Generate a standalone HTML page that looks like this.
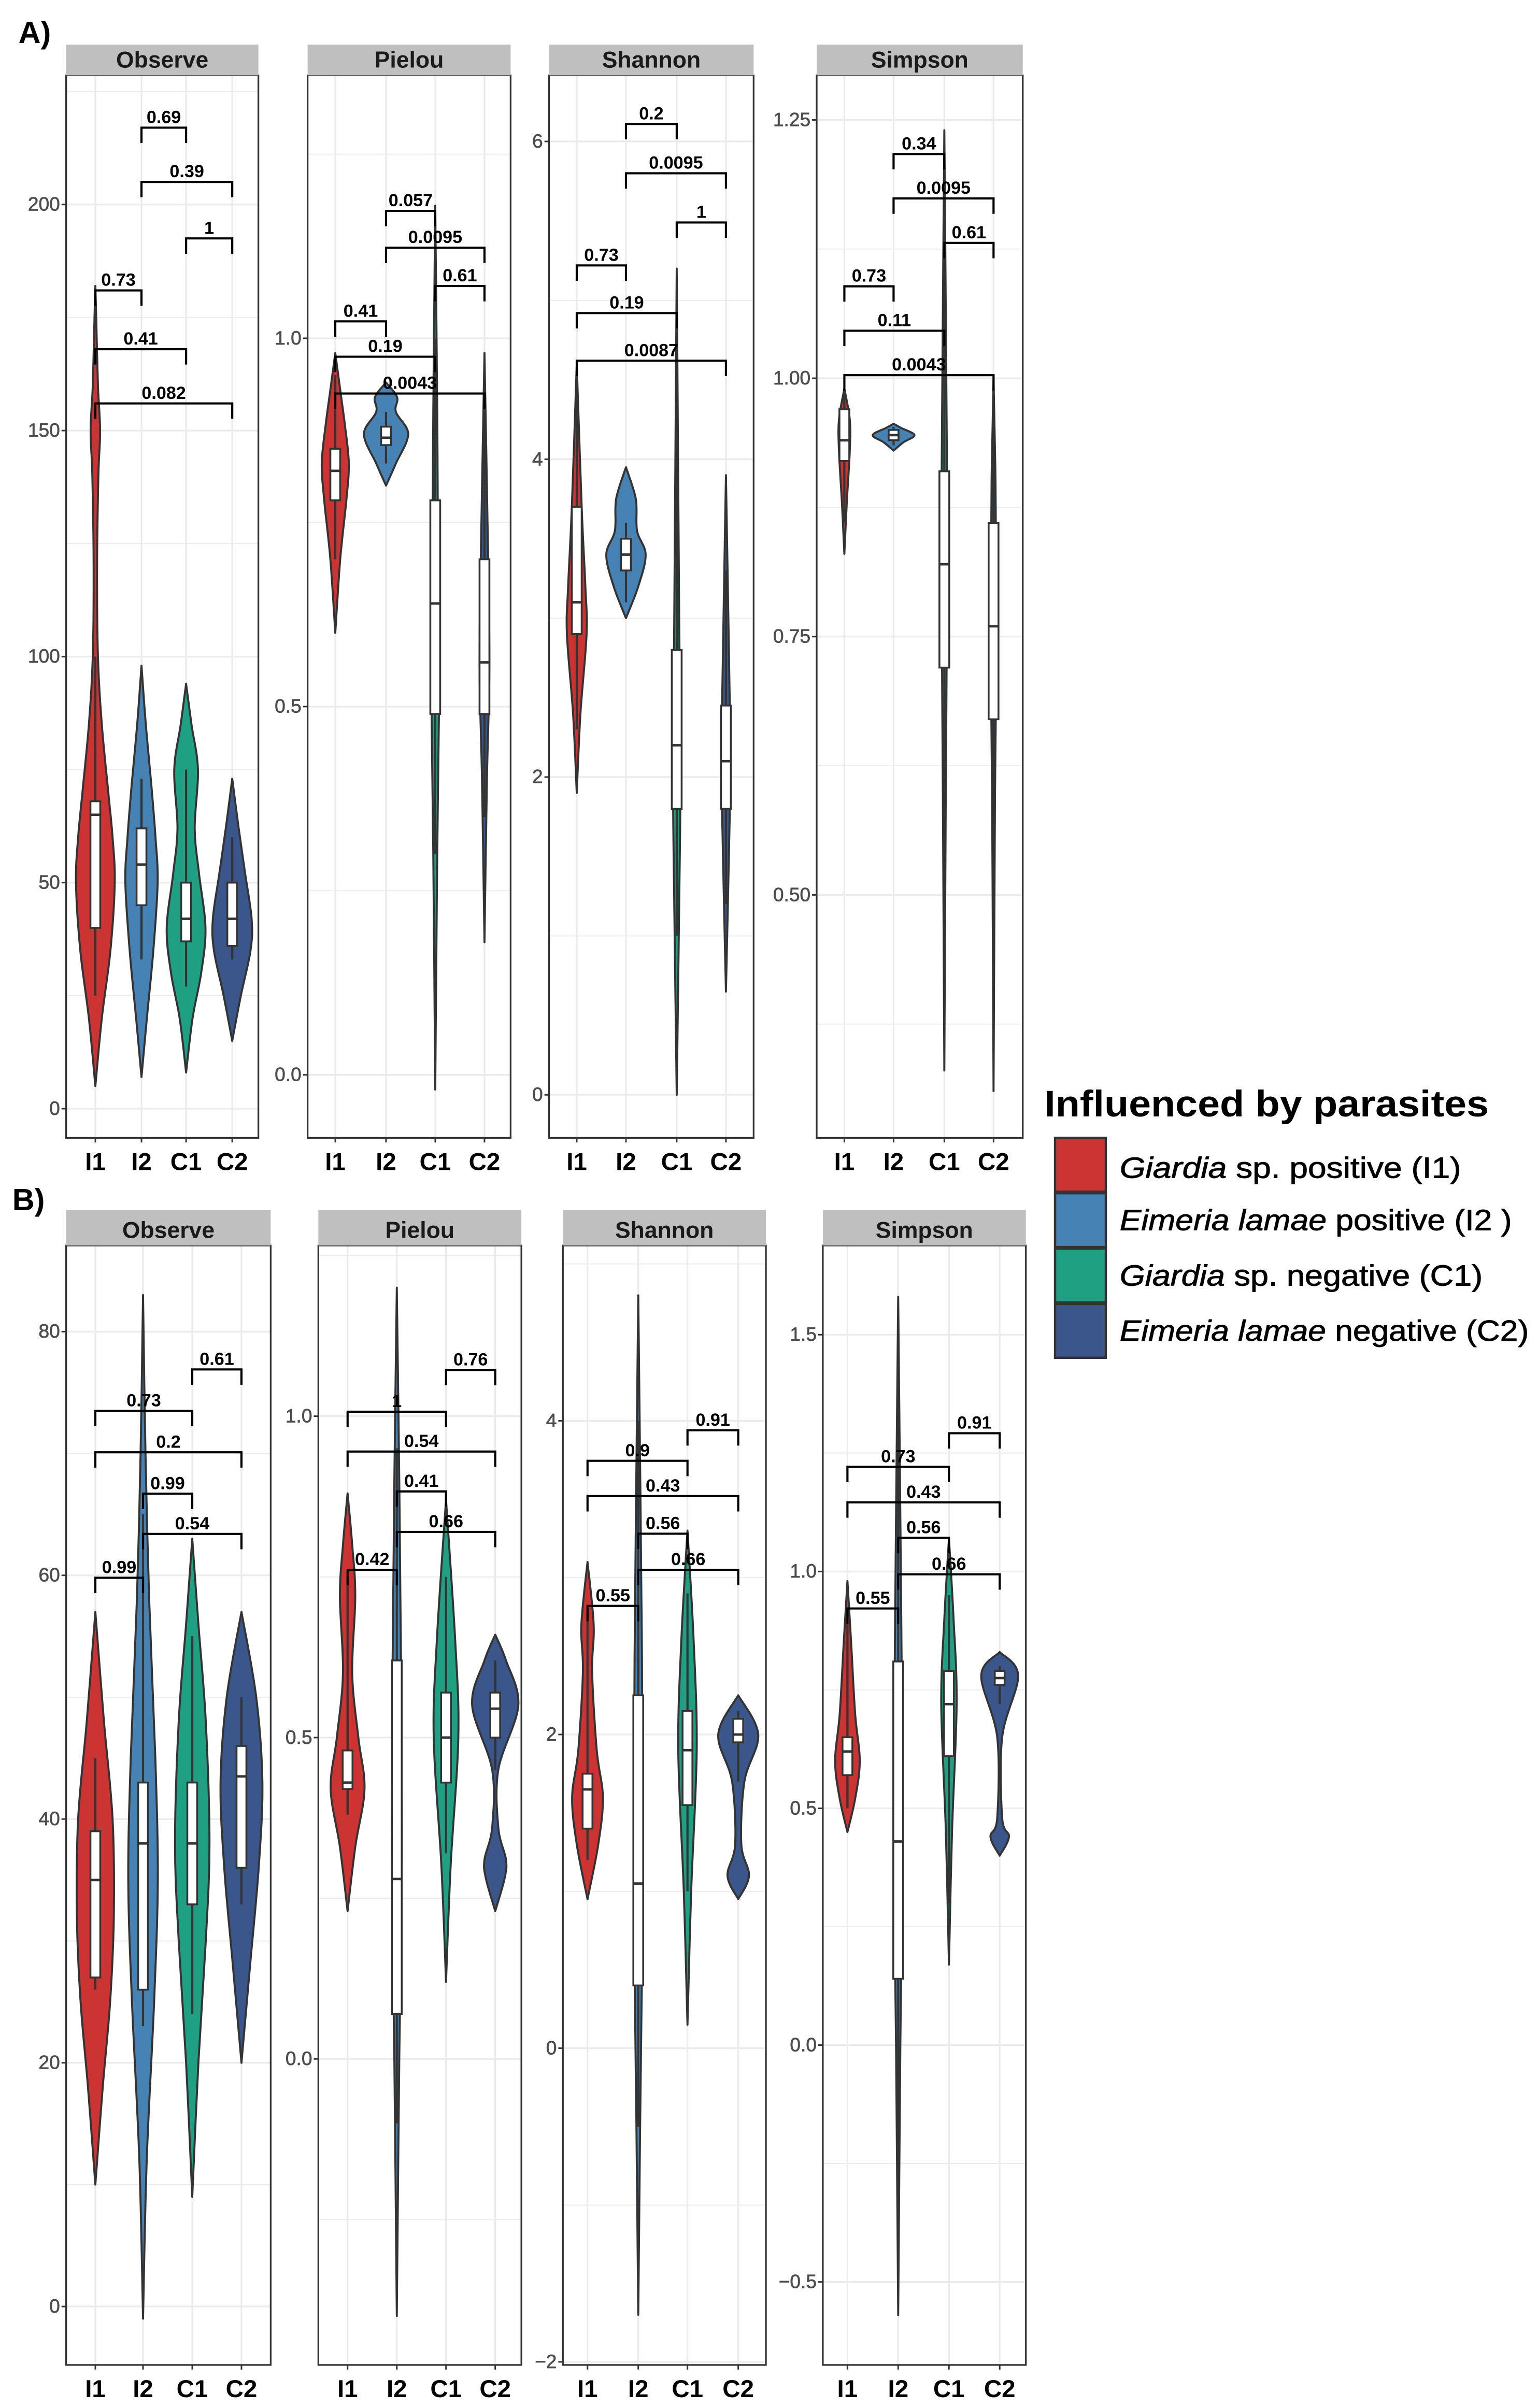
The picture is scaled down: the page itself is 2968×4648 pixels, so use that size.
<!DOCTYPE html>
<html><head><meta charset="utf-8"><style>
html,body{margin:0;padding:0;background:#fff;}
svg{display:block;}
text{font-family:"Liberation Sans",sans-serif;}
</style></head><body>
<svg id="fig" xmlns="http://www.w3.org/2000/svg" width="2968" height="4648" viewBox="0 0 1000 1566" preserveAspectRatio="none">
<rect x="0" y="0" width="1000" height="1566" fill="#fff"/>
<text x="12" y="28" font-size="20" font-weight="bold">A)</text>
<text x="8" y="787" font-size="20" font-weight="bold">B)</text>
<g>
<text x="679" y="726" font-size="24" font-weight="bold" textLength="289" lengthAdjust="spacingAndGlyphs">Influenced by parasites</text>
<rect x="686" y="740" width="33" height="35" fill="#cc3333" stroke="#333" stroke-width="1.5"/>
<rect x="686" y="776" width="33" height="35" fill="#4682b4" stroke="#333" stroke-width="1.5"/>
<rect x="686" y="812" width="33" height="35" fill="#1fa083" stroke="#333" stroke-width="1.5"/>
<rect x="686" y="848" width="33" height="35" fill="#3b568a" stroke="#333" stroke-width="1.5"/>
<text x="728" y="766" font-size="19" textLength="222" lengthAdjust="spacingAndGlyphs" stroke="#000" stroke-width="0.3"><tspan font-style="italic">Giardia</tspan> sp. positive (I1)</text>
<text x="728" y="800" font-size="19" textLength="255" lengthAdjust="spacingAndGlyphs" stroke="#000" stroke-width="0.3"><tspan font-style="italic">Eimeria lamae</tspan> positive (I2 )</text>
<text x="728" y="836" font-size="19" textLength="236" lengthAdjust="spacingAndGlyphs" stroke="#000" stroke-width="0.3"><tspan font-style="italic">Giardia</tspan> sp. negative (C1)</text>
<text x="728" y="872" font-size="19" textLength="266" lengthAdjust="spacingAndGlyphs" stroke="#000" stroke-width="0.3"><tspan font-style="italic">Eimeria lamae</tspan> negative (C2)</text>
</g>
</svg>
<script>
const groups = ["I1","I2","C1","C2"];
const fills = ["#cc3333","#4682b4","#1fa083","#3b568a"];
// violin density profiles: [value, relative width]
const aObserveViolins = [
 [[5,0],[20,0.3],[35,0.7],[50,0.9],[60,0.8],[70,0.6],[85,0.3],[100,0.12],[120,0.08],[140,0.14],[150,0.22],[160,0.12],[175,0.04],[182,0]],
 [[7,0],[20,0.25],[35,0.55],[50,0.75],[60,0.65],[72,0.45],[85,0.2],[98,0]],
 [[8,0],[20,0.3],[30,0.7],[40,0.9],[52,0.6],[62,0.4],[75,0.55],[85,0.25],[94,0]],
 [[15,0],[25,0.4],[35,0.85],[42,0.9],[52,0.6],[62,0.3],[73,0]]];
const aObserveBoxes = [[25,40,65,68,100],[33,45,54,62,73],[27,37,42,50,75],[33,36,42,50,60]];
const aPielouViolins = [
 [[0.6,0],[0.7,0.2],[0.78,0.45],[0.83,0.55],[0.88,0.4],[0.93,0.2],[0.98,0]],
 [[0.8,0],[0.83,0.4],[0.87,0.9],[0.9,0.4],[0.92,0.45],[0.94,0]],
 [[-0.02,0],[0.3,0.08],[0.5,0.15],[0.65,0.12],[0.9,0.08],[1.18,0]],
 [[0.18,0],[0.4,0.1],[0.55,0.2],[0.7,0.15],[0.98,0]]];
const aPielouBoxes = [[0.7,0.78,0.82,0.85,0.95],[0.83,0.855,0.865,0.88,0.9],[0.3,0.49,0.64,0.78,1.0],[0.35,0.49,0.56,0.7,0.9]];
const aShannonViolins = [
 [[1.9,0],[2.4,0.15],[2.9,0.4],[3.2,0.35],[3.7,0.2],[4.6,0]],
 [[3.0,0],[3.2,0.5],[3.4,0.8],[3.55,0.45],[3.75,0.4],[3.95,0]],
 [[0,0],[1.2,0.1],[2.0,0.15],[3.0,0.1],[5.2,0]],
 [[0.65,0],[1.5,0.12],[2.1,0.18],[2.8,0.12],[3.9,0]]];
const aShannonBoxes = [[2.3,2.9,3.1,3.7,4.4],[3.1,3.3,3.4,3.5,3.6],[1.0,1.8,2.2,2.8,4.5],[1.2,1.8,2.1,2.45,3.3]];
const aSimpsonViolins = [
 [[0.83,0],[0.88,0.1],[0.93,0.22],[0.96,0.22],[0.99,0]],
 [[0.93,0],[0.938,0.4],[0.945,0.85],[0.952,0.3],[0.956,0]],
 [[0.33,0],[0.6,0.06],[0.82,0.12],[1.0,0.08],[1.24,0]],
 [[0.31,0],[0.6,0.06],[0.76,0.12],[0.9,0.08],[1.0,0]]];
const aSimpsonBoxes = [[0.86,0.92,0.94,0.97,0.99],[0.935,0.94,0.945,0.95,0.953],[0.4,0.72,0.82,0.91,1.2],[0.35,0.67,0.76,0.86,0.98]];
const bObserveViolins = [
 [[10,0],[18,0.3],[25,0.6],[32,0.75],[40,0.7],[48,0.35],[57,0]],
 [[-1,0],[12,0.15],[25,0.45],[35,0.6],[45,0.5],[58,0.25],[70,0.1],[83,0]],
 [[9,0],[20,0.25],[30,0.55],[38,0.7],[48,0.55],[56,0.25],[63,0]],
 [[20,0],[28,0.35],[36,0.7],[43,0.85],[50,0.6],[57,0]]];
const bObserveBoxes = [[26,27,35,39,45],[23,26,38,43,65],[24,33,38,43,55],[33,36,43.5,46,50]];
const bPielouViolins = [
 [[0.23,0],[0.33,0.25],[0.42,0.55],[0.5,0.35],[0.6,0.15],[0.72,0.25],[0.8,0.15],[0.88,0]],
 [[-0.4,0],[0.0,0.08],[0.3,0.16],[0.6,0.14],[0.9,0.08],[1.2,0]],
 [[0.12,0],[0.3,0.15],[0.5,0.4],[0.65,0.3],[0.87,0]],
 [[0.23,0],[0.28,0.3],[0.31,0.35],[0.36,0.1],[0.45,0.1],[0.55,0.75],[0.62,0.35],[0.66,0]]];
const bPielouBoxes = [[0.38,0.42,0.43,0.48,0.75],[-0.1,0.07,0.28,0.62,0.95],[0.32,0.43,0.5,0.57,0.75],[0.45,0.5,0.545,0.57,0.62]];
const bShannonViolins = [
 [[0.95,0],[1.3,0.35],[1.6,0.5],[1.9,0.3],[2.4,0.15],[2.7,0.2],[3.1,0]],
 [[-1.7,0],[-0.5,0.06],[1.0,0.14],[2.5,0.12],[4.8,0]],
 [[0.15,0],[1.0,0.12],[1.9,0.3],[2.6,0.2],[3.3,0]],
 [[0.95,0],[1.1,0.35],[1.3,0.1],[1.7,0.2],[2.0,0.65],[2.25,0]]];
const bShannonBoxes = [[1.2,1.4,1.65,1.75,2.8],[-0.5,0.4,1.05,2.25,4.0],[1.0,1.55,1.9,2.15,2.9],[1.7,1.95,2.0,2.1,2.15]];
const bSimpsonViolins = [
 [[0.45,0],[0.52,0.25],[0.6,0.4],[0.7,0.25],[0.85,0.12],[0.98,0]],
 [[-0.57,0],[0.0,0.07],[0.45,0.14],[0.9,0.1],[1.58,0]],
 [[0.17,0],[0.45,0.1],[0.72,0.25],[0.9,0.15],[1.07,0]],
 [[0.4,0],[0.44,0.3],[0.48,0.08],[0.65,0.08],[0.78,0.6],[0.83,0]]];
const bSimpsonBoxes = [[0.5,0.57,0.62,0.65,0.9],[-0.3,0.14,0.43,0.81,1.4],[0.3,0.61,0.72,0.79,0.95],[0.72,0.76,0.775,0.79,0.8]];
// brackets: [groupA, groupB, y value, label]
const aObserveBrackets = [[1,2,217,"0.69"],[1,3,205,"0.39"],[2,3,192.5,"1"],[0,1,181,"0.73"],[0,2,168,"0.41"],[0,3,156,"0.082"]];
const aPielouBrackets = [[1,2,1.173,"0.057"],[1,3,1.123,"0.0095"],[2,3,1.071,"0.61"],[0,1,1.023,"0.41"],[0,2,0.975,"0.19"],[0,3,0.925,"0.0043"]];
const aShannonBrackets = [[1,2,6.11,"0.2"],[1,3,5.8,"0.0095"],[2,3,5.49,"1"],[0,1,5.22,"0.73"],[0,2,4.92,"0.19"],[0,3,4.62,"0.0087"]];
const aSimpsonBrackets = [[1,2,1.217,"0.34"],[1,3,1.174,"0.0095"],[2,3,1.131,"0.61"],[0,1,1.089,"0.73"],[0,2,1.046,"0.11"],[0,3,1.003,"0.0043"]];
const bObserveBrackets = [[2,3,76.9,"0.61"],[0,2,73.5,"0.73"],[0,3,70.1,"0.2"],[1,2,66.7,"0.99"],[1,3,63.4,"0.54"],[0,1,59.8,"0.99"]];
const bPielouBrackets = [[2,3,1.072,"0.76"],[0,2,1.007,"1"],[0,3,0.945,"0.54"],[1,2,0.883,"0.41"],[1,3,0.82,"0.66"],[0,1,0.761,"0.42"]];
const bShannonBrackets = [[2,3,3.94,"0.91"],[0,2,3.745,"0.9"],[0,3,3.52,"0.43"],[1,2,3.28,"0.56"],[1,3,3.05,"0.66"],[0,1,2.82,"0.55"]];
const bSimpsonBrackets = [[2,3,1.292,"0.91"],[0,2,1.221,"0.73"],[0,3,1.146,"0.43"],[1,2,1.071,"0.56"],[1,3,0.994,"0.66"],[0,1,0.922,"0.55"]];
// tick labels
const aObserveTicks = ["0","50","100","150","200"];
const aPielouTicks = ["0.0","0.5","1.0"];
const aShannonTicks = ["0","2","4","6"];
const aSimpsonTicks = ["0.50","0.75","1.00","1.25"];
const bObserveTicks = ["0","20","40","60","80"];
const bPielouTicks = ["0.0","0.5","1.0"];
const bShannonTicks = ["-2","0","2","4"];
const bSimpsonTicks = ["-0.5","0.0","0.5","1.0","1.5"];

const NS="http://www.w3.org/2000/svg";
const svg=document.getElementById('fig');
function mk(tag,attrs,parent){const e=document.createElementNS(NS,tag);for(const k in attrs)e.setAttribute(k,attrs[k]);(parent||svg).appendChild(e);return e;}
function smooth(pts){
 // Catmull-Rom to cubic Bezier, pts = [[x,y],...]
 let d='M'+pts[0][0]+','+pts[0][1];
 for(let i=0;i<pts.length-1;i++){
  const p0=pts[Math.max(0,i-1)],p1=pts[i],p2=pts[i+1],p3=pts[Math.min(pts.length-1,i+2)];
  const c1=[p1[0]+(p2[0]-p0[0])/6,p1[1]+(p2[1]-p0[1])/6];
  const c2=[p2[0]-(p3[0]-p1[0])/6,p2[1]-(p3[1]-p1[1])/6];
  d+=` C${c1[0]},${c1[1]} ${c2[0]},${c2[1]} ${p2[0]},${p2[1]}`;
 }
 return d;
}

const panels=[
 {id:'a-observe',title:'Observe',x0:43,x1:168,st:29,top:49,bot:740,v0:0,p0:721,v1:200,p1:133,xs:[62,92,121,151],vio:aObserveViolins,box:aObserveBoxes,br:aObserveBrackets,ticks:aObserveTicks,hw:14},
 {id:'a-pielou',title:'Pielou',x0:200,x1:332,st:29,top:49,bot:740,v0:0,p0:699,v1:1,p1:220,xs:[218,251,283,315],vio:aPielouViolins,box:aPielouBoxes,br:aPielouBrackets,ticks:aPielouTicks,hw:16},
 {id:'a-shannon',title:'Shannon',x0:357,x1:490,st:29,top:49,bot:740,v0:0,p0:712,v1:6,p1:92,xs:[375,407,440,472],vio:aShannonViolins,box:aShannonBoxes,br:aShannonBrackets,ticks:aShannonTicks,hw:16},
 {id:'a-simpson',title:'Simpson',x0:531,x1:665,st:29,top:49,bot:740,v0:0.5,p0:582,v1:1.25,p1:78,xs:[549,581,614,646],vio:aSimpsonViolins,box:aSimpsonBoxes,br:aSimpsonBrackets,ticks:aSimpsonTicks,hw:16},
 {id:'b-observe',title:'Observe',x0:43,x1:176,st:787,top:810,bot:1538,v0:0,p0:1500,v1:80,p1:866,xs:[62,93,125,157],vio:bObserveViolins,box:bObserveBoxes,br:bObserveBrackets,ticks:bObserveTicks,hw:16},
 {id:'b-pielou',title:'Pielou',x0:207,x1:339,st:787,top:810,bot:1538,v0:0,p0:1339,v1:1,p1:921,xs:[226,258,290,322],vio:bPielouViolins,box:bPielouBoxes,br:bPielouBrackets,ticks:bPielouTicks,hw:20},
 {id:'b-shannon',title:'Shannon',x0:366,x1:498,st:787,top:810,bot:1538,v0:0,p0:1332,v1:4,p1:924,xs:[382,415,447,480],vio:bShannonViolins,box:bShannonBoxes,br:bShannonBrackets,ticks:bShannonTicks,hw:20},
 {id:'b-simpson',title:'Simpson',x0:535,x1:667,st:787,top:810,bot:1538,v0:0,p0:1330,v1:1,p1:1022,xs:[551,584,617,650],vio:bSimpsonViolins,box:bSimpsonBoxes,br:bSimpsonBrackets,ticks:bSimpsonTicks,hw:20}
];

panels.forEach(P=>{
 const y=v=>P.p0+(v-P.v0)*(P.p1-P.p0)/(P.v1-P.v0);
 const g=mk('g',{});
 
 
 mk('rect',{x:P.x0,y:P.top,width:P.x1-P.x0,height:P.bot-P.top,fill:'#fff'},g);
 const tv=P.ticks.map(Number);
 const step=tv[1]-tv[0];
 for(let v=tv[0]-step*2;v<=tv[tv.length-1]+step*2;v+=step/2){
  const yy=y(v); if(yy<P.top||yy>P.bot) continue;
  const isMajor=Math.abs(((v-tv[0])/step)-Math.round((v-tv[0])/step))<1e-6;
  const gl=mk('line',{x1:P.x0,x2:P.x1,y1:yy,y2:yy,stroke:'#ebebeb','stroke-width':isMajor?1.1:0.6},g);
  
  
 }
 P.xs.forEach(x=>{mk('line',{x1:x,x2:x,y1:P.top,y2:P.bot,stroke:'#ebebeb','stroke-width':1.1},g);});
 P.vio.forEach((prof,i)=>{
  const cx=P.xs[i];
  const right=prof.map(p=>[cx+p[1]*P.hw,y(p[0])]);
  const left=prof.slice().reverse().map(p=>[cx-p[1]*P.hw,y(p[0])]);
  let d=smooth(right)+' '+smooth(left).replace(/^M/,'L')+'Z';
  const vp=mk('path',{d:d,fill:fills[i],stroke:'#333','stroke-width':1.3,'stroke-linejoin':'round'},g);
  
  
  const b=P.box[i];
  mk('line',{x1:cx,x2:cx,y1:y(b[0]),y2:y(b[4]),stroke:'#333','stroke-width':1.4},g);
  const br=mk('rect',{x:cx-3.2,y:y(b[3]),width:6.4,height:Math.max(1,y(b[1])-y(b[3])),fill:'#fff',stroke:'#333','stroke-width':1.2},g);
  
  
  mk('line',{x1:cx-3.2,x2:cx+3.2,y1:y(b[2]),y2:y(b[2]),stroke:'#333','stroke-width':1.6},g);
 });
 P.br.forEach(B=>{
  const xa=P.xs[B[0]],xb=P.xs[B[1]],yy=y(B[2]);
  const bp=mk('path',{d:`M${xa},${yy+10} L${xa},${yy} L${xb},${yy} L${xb},${yy+10}`,fill:'none',stroke:'#000','stroke-width':1.4},g);
  
  
  const t=mk('text',{x:(xa+xb)/2,y:yy-3,'font-size':11.5,'font-weight':'bold','text-anchor':'middle',fill:'#000'},g);
  t.textContent=B[3];
  
  
 });
 mk('rect',{x:P.x0,y:P.top,width:P.x1-P.x0,height:P.bot-P.top,fill:'none',stroke:'#333','stroke-width':1.1},g);
 const sr=mk('rect',{x:P.x0,y:P.st,width:P.x1-P.x0,height:P.top-P.st,fill:'#bfbfbf'},g);
 
 
 const st=mk('text',{x:(P.x0+P.x1)/2,y:P.top-5,'font-size':15,'font-weight':'bold','text-anchor':'middle',fill:'#1a1a1a'},g);
 st.textContent=P.title;
 
 
 P.ticks.forEach(lbl=>{
  const yy=y(Number(lbl));
  mk('line',{x1:P.x0-3,x2:P.x0,y1:yy,y2:yy,stroke:'#333','stroke-width':1},g);
  const t=mk('text',{x:P.x0-4,y:yy+4,'font-size':12.5,'text-anchor':'end',fill:'#4d4d4d',stroke:'#4d4d4d','stroke-width':0.25},g);
  t.textContent=lbl.replace('-','\u2212');
  
  
 });
 groups.forEach((gname,i)=>{
  mk('line',{x1:P.xs[i],x2:P.xs[i],y1:P.bot,y2:P.bot+3,stroke:'#333','stroke-width':1},g);
  const t=mk('text',{x:P.xs[i],y:P.bot+21,'font-size':16,'font-weight':'bold','text-anchor':'middle',fill:'#000'},g);
  t.textContent=gname;
  
  
 });
});
</script>
</body></html>
